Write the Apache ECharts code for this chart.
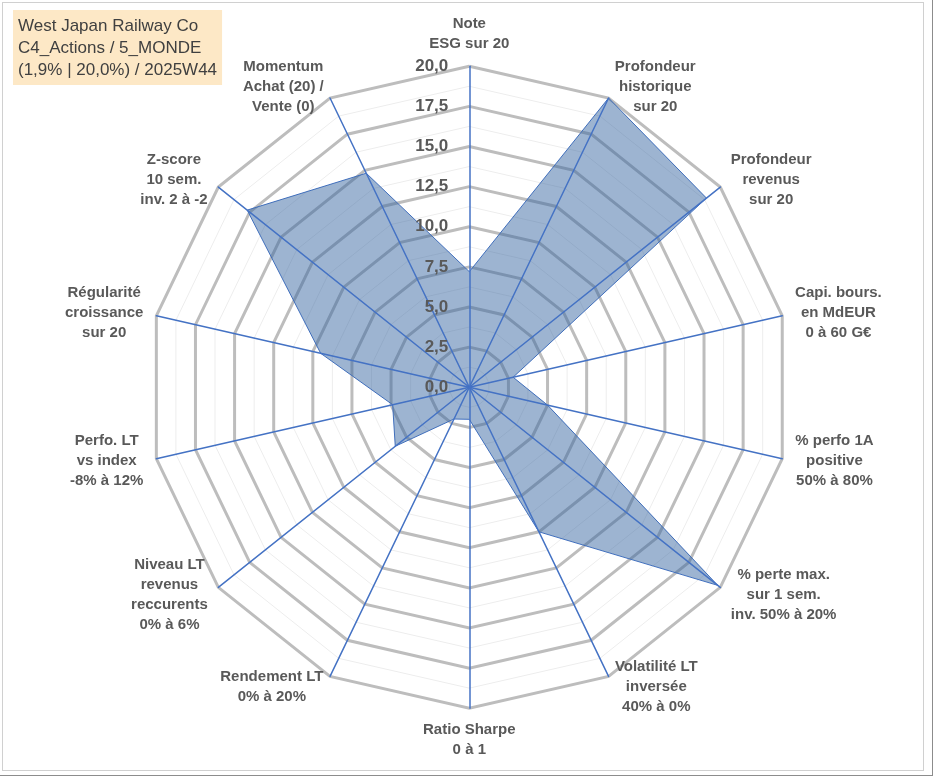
<!DOCTYPE html>
<html>
<head>
<meta charset="utf-8">
<title>West Japan Railway Co - radar</title>
<script src="https://cdn.jsdelivr.net/npm/echarts@6/dist/echarts.min.js"></script>
<style>
  html, body { margin: 0; padding: 0; background: #fff; }
  #chart { position: absolute; left: 0; top: 0; width: 933px; height: 776px; }
  #frame { position: absolute; left: 2px; top: 2px; width: 922px; height: 769px; box-sizing: border-box;
           border: 1px solid #d0d0d0; pointer-events: none; }
  #edge { position: absolute; left: 0; top: 0; width: 933px; height: 776px; box-sizing: border-box;
          border-right: 1px solid #8c8c8c; border-bottom: 1px solid #8c8c8c; pointer-events: none; }
</style>
</head>
<body>
<div id="chart"></div>
<div id="frame"></div>
<div id="edge"></div>
<script>
// titre (cartouche en haut a gauche)
var titleLines = ["West Japan Railway Co", "C4_Actions / 5_MONDE", "(1,9% | 20,0%) / 2025W44"];

// axes dans l'ordre echarts (sens anti-horaire depuis le haut)
var indicatorNames = [
  "Note\nESG sur 20",
  "Momentum\nAchat (20) /\nVente (0)",
  "Z-score\n10 sem.\ninv. 2 à -2",
  "Régularité\ncroissance\nsur 20",
  "Perfo. LT\nvs index\n-8% à 12%",
  "Niveau LT\nrevenus\nreccurents\n0% à 6%",
  "Rendement LT\n0% à 20%",
  "Ratio Sharpe\n0 à 1",
  "Volatilité LT\ninversée\n40% à 0%",
  "% perte max.\nsur 1 sem.\ninv. 50% à 20%",
  "% perfo 1A\npositive\n50% à 80%",
  "Capi. bours.\nen MdEUR\n0 à 60 G€",
  "Profondeur\nrevenus\nsur 20",
  "Profondeur\nhistorique\nsur 20"
];

// notes sur 20, meme ordre
var scores = [7.2, 14.8, 17.7, 9.5, 4.9, 5.9, 2.2, 2.0, 10.0, 19.8, 5.0, 2.8, 18.9, 20.0];

var scoreMax = 20;
var majorSplit = 8;   // traits tous les 2,5
var minorSplit = 16;  // traits secondaires tous les 1,25

var FONT = "Liberation Sans";
var center = ["50.3%", "49.9%"];
var radius = 321;

// largeur de chaque bloc de nom, pour centrer les lignes entre elles
var ctx = document.createElement("canvas").getContext("2d");
ctx.font = "bold 15px '" + FONT + "'";
var nameRich = {};
indicatorNames.forEach(function (name, i) {
  var w = 0;
  name.split("\n").forEach(function (line) {
    w = Math.max(w, ctx.measureText(line).width);
  });
  nameRich["n" + i] = {
    width: Math.ceil(w) + 2,
    align: "center",
    fontFamily: FONT,
    fontWeight: "bold",
    fontSize: 15,
    lineHeight: 20,
    color: "#595959"
  };
});

function buildIndicators(withLabel) {
  return indicatorNames.map(function (name, i) {
    var ind = { name: name, min: 0, max: scoreMax };
    if (withLabel) {
      ind.axisLabel = { show: i === 0 };
    }
    return ind;
  });
}

var chart = echarts.init(document.getElementById("chart"));

var option = {
  animation: false,
  textStyle: { fontFamily: FONT },
  title: {
    text: titleLines.join("\n"),
    left: 13,
    top: 10,
    padding: [5, 5, 4, 5],
    backgroundColor: "#FDE8C6",
    textStyle: {
      fontFamily: FONT,
      fontSize: 17,
      fontWeight: "normal",
      color: "#404040",
      lineHeight: 22
    }
  },
  radar: [
    {
      // traits secondaires
      center: center,
      radius: radius,
      shape: "polygon",
      splitNumber: minorSplit,
      indicator: buildIndicators(false),
      axisName: { show: false },
      axisLine: { show: false },
      axisTick: { show: false },
      axisLabel: { show: false },
      splitArea: { show: false },
      splitLine: { lineStyle: { color: "#EDEDED", width: 1 } }
    },
    {
      // traits principaux + noms des axes
      center: center,
      radius: radius,
      shape: "polygon",
      splitNumber: majorSplit,
      nameGap: 12,
      indicator: buildIndicators(false),
      axisName: {
        formatter: function (name) {
          var i = indicatorNames.indexOf(name);
          return name.split("\n").map(function (line) {
            return "{n" + i + "|" + line + "}";
          }).join("\n");
        },
        rich: nameRich
      },
      axisLine: { show: false },
      axisTick: { show: false },
      axisLabel: { show: false },
      splitArea: { show: false },
      splitLine: { lineStyle: { color: "#BDBDBD", width: 3 } }
    },
    {
      // rayons bleus et graduation, au-dessus de la surface
      center: center,
      radius: radius,
      shape: "polygon",
      splitNumber: majorSplit,
      z: 5,
      indicator: buildIndicators(true),
      axisName: { show: false },
      axisLine: { show: true, lineStyle: { color: "#4472C4", width: 1.5 } },
      axisTick: { show: false },
      axisLabel: {
        show: false,
        margin: 21,
        fontFamily: FONT,
        fontSize: 17,
        fontWeight: "bold",
        color: "#595959",
        formatter: function (v) {
          return Number(v).toFixed(1).replace(".", ",");
        }
      },
      splitArea: { show: false },
      splitLine: { show: false }
    }
  ],
  series: [
    {
      type: "radar",
      radarIndex: 1,
      symbol: "none",
      z: 3,
      lineStyle: { color: "#4472C4", width: 1 },
      areaStyle: { color: "rgba(52, 100, 160, 0.69)" },
      data: [{ value: scores, name: titleLines[0] }]
    }
  ]
};

chart.setOption(option);
window.addEventListener("resize", function () { chart.resize(); });
</script>
</body>
</html>
